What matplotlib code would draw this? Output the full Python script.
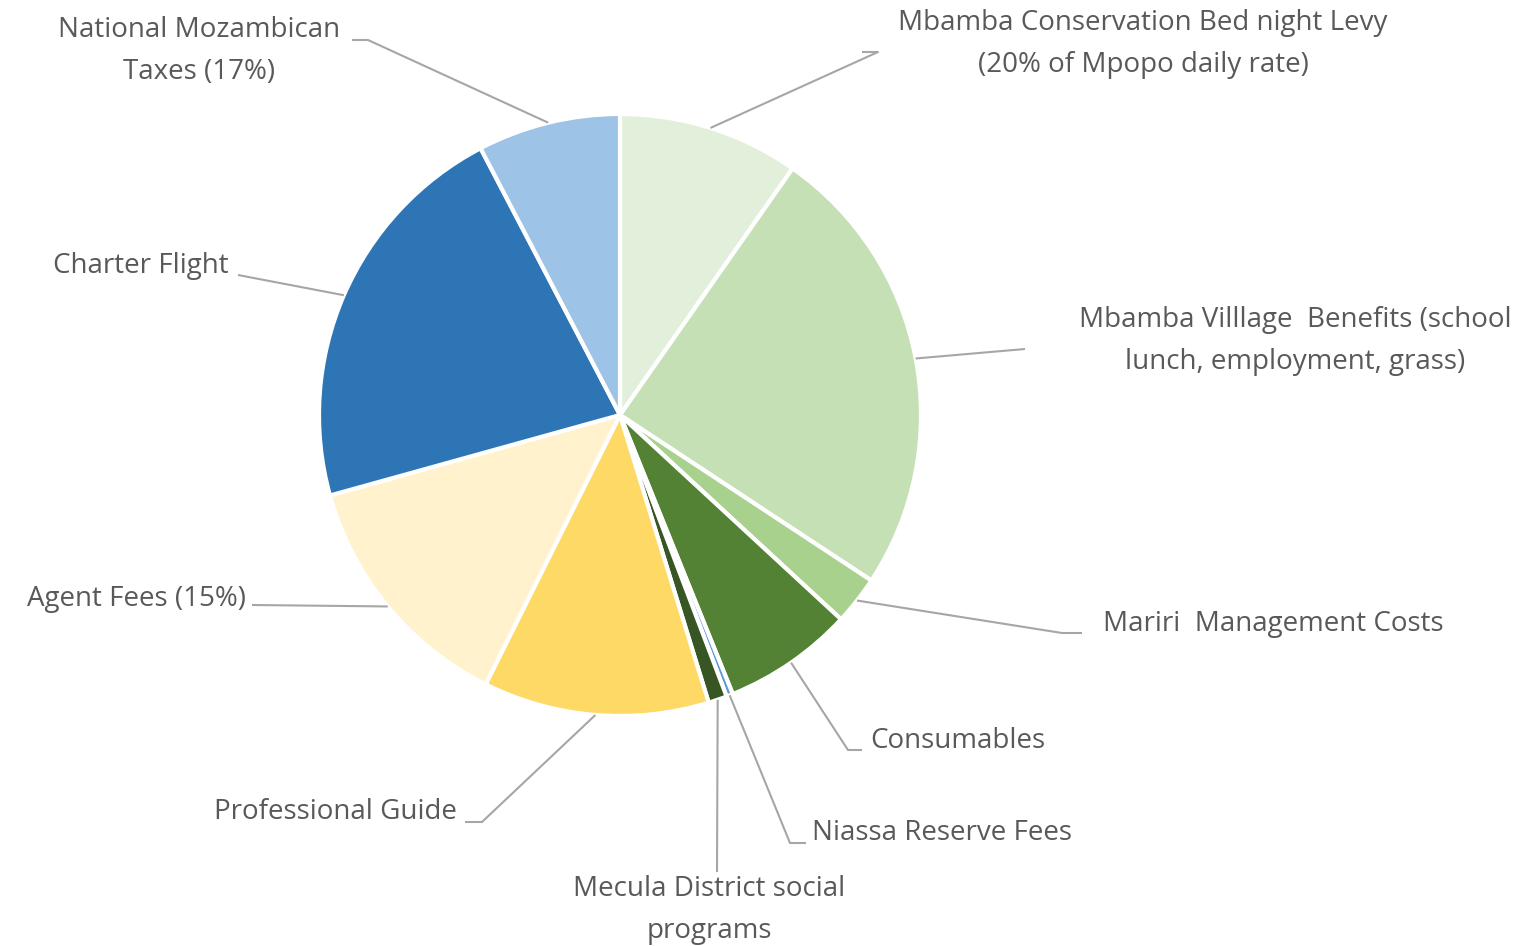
import matplotlib
matplotlib.use("Agg")
import matplotlib.pyplot as plt
import numpy as np

categories = [
    "Mbamba Conservation Bed night Levy\n(20% of Mpopo daily rate)",
    "Mbamba Villlage  Benefits (school\nlunch, employment, grass)",
    "Mariri  Management Costs",
    "Consumables",
    "Niassa Reserve Fees",
    "Mecula District social\nprograms",
    "Professional Guide",
    "Agent Fees (15%)",
    "Charter Flight",
    "National Mozambican\nTaxes (17%)",
]
values = [9.7, 24.5, 2.6, 7.0, 0.35, 1.0, 12.1, 13.3, 21.6, 7.65]
colors = ["#e2efda", "#c5e0b4", "#a9d18e", "#548235", "#5b9bd5",
          "#375623", "#ffd966", "#fff2cc", "#2e75b6", "#9dc3e6"]

W, H = 1528, 946
fig = plt.figure(figsize=(W / 100, H / 100), dpi=100)
ax = fig.add_axes([0, 0, 1, 1])

cx, cy, R = 620, H - 415, 301
wedges, _ = ax.pie(values, colors=colors, startangle=90, counterclock=False,
                   center=(cx, cy), radius=R, frame=True,
                   wedgeprops=dict(edgecolor="white", linewidth=3))
ax.set_xlim(0, W)
ax.set_ylim(0, H)
ax.set_aspect("equal")
ax.axis("off")

# label layout (pixel coords, top-left origin): text x, text y, ha, leader path points
layout = [
    (1143, 44, "center", [(878, 52), (862, 52)]),
    (1295, 341, "center", [(1025, 349)]),
    (1103, 624, "left", [(1062, 633), (1082, 633)]),
    (870, 741, "left", [(848, 750), (862, 750)]),
    (812, 833, "left", [(790, 843), (806, 843)]),
    (709, 910, "center", [(717, 872)]),
    (457, 812, "right", [(482, 822), (465, 822)]),
    (246, 599, "right", [(252, 605)]),
    (229, 266, "right", [(238, 275)]),
    (199, 51, "center", [(368, 40), (352, 40)]),
]

for w, lab, (tx, ty, ha, pts) in zip(wedges, categories, layout):
    mid = np.deg2rad((w.theta1 + w.theta2) / 2)
    ex = cx + R * np.cos(mid)
    ey = cy + R * np.sin(mid)
    xs = [ex] + [p[0] for p in pts]
    ys = [ey] + [H - p[1] for p in pts]
    ax.plot(xs, ys, color="#a6a6a6", lw=1.5, solid_capstyle="butt", zorder=1)
    ax.text(tx, H - ty, lab, ha=ha, va="center", fontsize=20,
            family="Open Sans", color="#595959", linespacing=1.67,
            multialignment="center")

fig.savefig("out.png", dpi=100)
